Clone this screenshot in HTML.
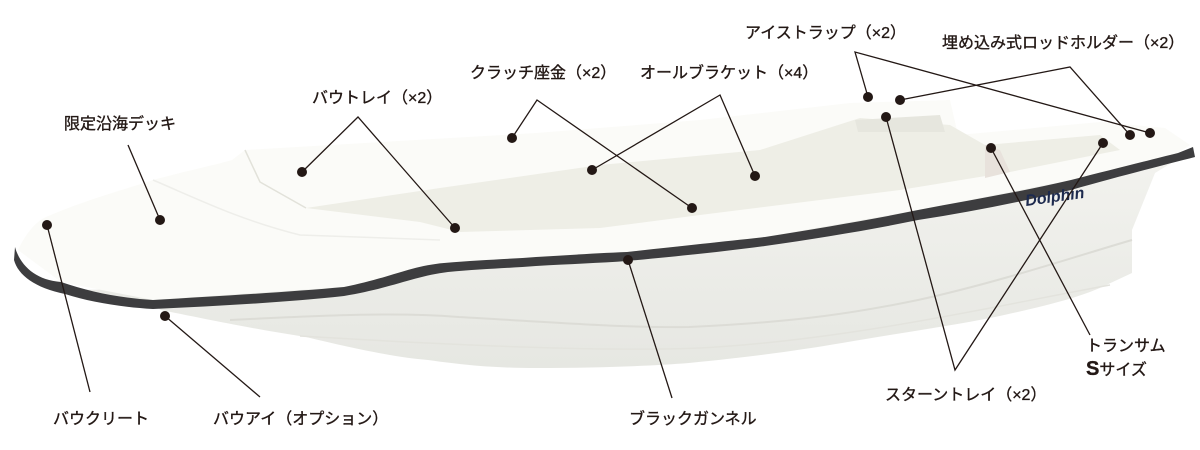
<!DOCTYPE html>
<html><head><meta charset="utf-8"><style>
html,body{margin:0;padding:0;background:#fff;}
svg{display:block}
text{font-family:"Liberation Sans","Noto Sans CJK JP",sans-serif;font-size:16px;fill:#231815;stroke:#231815;stroke-width:0.35px;}
</style></head><body>
<svg width="1200" height="450" viewBox="0 0 1200 450" xmlns="http://www.w3.org/2000/svg">
<defs>
<linearGradient id="hull" x1="0" y1="0" x2="0" y2="1">
<stop offset="0" stop-color="#f3f3ef"/><stop offset="1" stop-color="#e6e7e2"/>
</linearGradient>
</defs>
<path d="M60,290 L153,305 L161,310 C220,322 260,330 306,337 C360,350 400,358 428,360 C470,366 500,368 536,368 C600,368 650,366 689,363 C760,356 800,350 842,343 C900,333 950,326 995,317 C1050,305 1080,297 1102,287 L1132,273 L1132,230 L1155,173 L1193,150 L918,210 L627,252 L444,263 L344,287 Z" fill="url(#hull)"/>
<path d="M230,320 C330,315 400,312 459,317 C550,322 620,328 689,327 C800,322 860,312 918,300 C1000,282 1080,255 1132,240" fill="none" stroke="#dcdcd6" stroke-width="2"/>
<path d="M300,336 C450,345 600,352 700,348 C850,340 1000,305 1110,285" fill="none" stroke="#e3e3dd" stroke-width="1.5"/>
<path d="M18,250 C25,235 35,222 46,217 C90,198 130,188 153,180 C190,170 215,165 232,160 L245,150 L536,133 L700,120 L850,103 L950,100 L958,135 L1100,122 L1165,128 L1190,145 L1178,153 L1071,180 L918,210 L765,237 L627,252 L536,257 L444,263 L344,287 L153,300 L61,282 Z" fill="#fbfbf8"/>
<path d="M306,208 L440,188 L600,165 L760,150 L860,118 L950,125 L985,145 L1100,135 L1120,150 L1010,172 L900,190 L700,215 L600,228 L460,232 L420,222 Z" fill="#eeeee6"/>
<path d="M245,150 L260,182 L306,208" fill="none" stroke="#e2e2da" stroke-width="1.5"/>
<path d="M153,180 C200,200 240,220 300,235 L440,240" fill="none" stroke="#eeeeea" stroke-width="1.5"/>
<path d="M855,120 L940,115 L945,132 L858,132 Z" fill="#e6e6de"/>
<path d="M985,145 L1000,150 L1010,172 L985,178 Z" fill="#e8e2dc"/>
<path d="M15,247 C20,265 35,280 61,282 C90,292 120,298 153,300 C220,296 290,292 344,287 C390,278 410,266 444,263 C480,260 510,259 536,257 C570,255 600,253 627,252 C680,246 720,242 765,237 C820,228 870,220 918,210 C970,200 1020,192 1071,180 C1110,170 1150,160 1178,153 L1193,147 L1195,157 C1160,166 1120,176 1071,190 C1020,202 970,212 918,220 C870,230 820,238 765,246 C720,252 680,256 627,261 C600,263 570,264 536,266 C510,268 480,269 448,272 C415,276 392,288 344,296 C290,302 220,306 153,309 C120,307 90,302 65,294 C35,288 18,275 14,260 Z" fill="#3d3d3f"/>
<text x="1026" y="206" style="font-size:16px;font-style:italic;font-weight:bold;fill:#1d2a4e;stroke:none" transform="rotate(-8 1026 206)">Dolphin</text>
<g stroke="#231815" stroke-width="1.3" fill="none">
<path d="M128,145 L160,220"/>
<path d="M302,172 L358,117 L455,228"/>
<path d="M512,138 L537,100 L692,208"/>
<path d="M592,170 L720,95 L755,176"/>
<path d="M868,97 L855,52 L1150,133"/>
<path d="M900,100 L1070,67 L1130,135"/>
<path d="M886,117 L955,370 L1103,143"/>
<path d="M991,148 L1090,335"/>
<path d="M47,225 L90,392"/>
<path d="M165,316 L260,397"/>
<path d="M628,260 L672,398"/>
</g>
<g fill="#231815">
<circle cx="160" cy="220" r="5"/><circle cx="302" cy="172" r="5"/><circle cx="455" cy="228" r="5"/>
<circle cx="512" cy="138" r="5"/><circle cx="692" cy="208" r="5"/><circle cx="592" cy="170" r="5"/>
<circle cx="755" cy="176" r="5"/><circle cx="868" cy="97" r="5"/><circle cx="1150" cy="133" r="5"/>
<circle cx="900" cy="100" r="5"/><circle cx="1130" cy="135" r="5"/><circle cx="886" cy="117" r="5"/>
<circle cx="1103" cy="143" r="5"/><circle cx="991" cy="148" r="5"/><circle cx="47" cy="225" r="5"/>
<circle cx="165" cy="316" r="5"/><circle cx="628" cy="260" r="5"/>
</g>
<text x="64" y="129">限定沿海デッキ</text>
<text x="312" y="103">バウトレイ（×2）</text>
<text x="470" y="78">クラッチ座金（×2）</text>
<text x="640" y="78">オールブラケット（×4）</text>
<text x="745" y="38">アイストラップ（×2）</text>
<text x="942" y="48">埋め込み式ロッドホルダー（×2）</text>
<text x="1086" y="351">トランサム</text>
<text x="1086" y="375"><tspan style="font-size:20px;font-weight:bold">S</tspan>サイズ</text>
<text x="885" y="400">スターントレイ（×2）</text>
<text x="53" y="424">バウクリート</text>
<text x="213" y="424">バウアイ（オプション）</text>
<text x="629" y="424">ブラックガンネル</text>
</svg>
</body></html>
